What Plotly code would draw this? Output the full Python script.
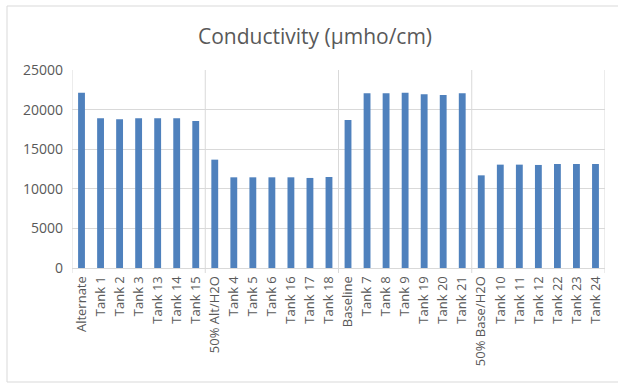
import plotly.graph_objects as go

categories = ["Alternate", "Tank 1", "Tank 2", "Tank 3", "Tank 13", "Tank 14", "Tank 15",
              "50% Alt/H2O", "Tank 4", "Tank 5", "Tank 6", "Tank 16", "Tank 17", "Tank 18",
              "Baseline", "Tank 7", "Tank 8", "Tank 9", "Tank 19", "Tank 20", "Tank 21",
              "50% Base/H2O", "Tank 10", "Tank 11", "Tank 12", "Tank 22", "Tank 23", "Tank 24"]
conductivity = [22140, 18900, 18780, 18900, 18900, 18900, 18570,
                13680, 11450, 11450, 11450, 11450, 11370, 11490,
                18690, 22060, 22060, 22140, 21930, 21850, 22060,
                11700, 13050, 13050, 13010, 13130, 13130, 13130]
group_boundaries = [6.5, 13.5, 20.5, 27.5]
y_ticks = [0, 5000, 10000, 15000, 20000, 25000]
y_tick_labels = ["0", "5000", "10000", "15000", "20000", "25000"]

W, H = 618, 383
L, R, T, B = 72, 13, 70, 115
pw, ph = W - L - R, H - T - B

fig = go.Figure(go.Bar(x=categories, y=conductivity, marker=dict(color="#4F81BD", line=dict(width=0)),
                       width=0.36, hoverinfo="x+y"))

shapes = []
for xb in group_boundaries:
    shapes.append(dict(type="line", xref="x", yref="paper", x0=xb, x1=xb, y0=-5 / ph, y1=1,
                       line=dict(color="#D9D9D9", width=1), layer="below"))
shapes.append(dict(type="line", xref="x", yref="paper", x0=-0.5, x1=-0.5, y0=-5 / ph, y1=1,
                   line=dict(color="#D9D9D9", width=1), layer="below"))
# chart border
shapes.append(dict(type="rect", xref="paper", yref="paper",
                   x0=(7 - L) / pw, x1=(625 - L) / pw,
                   y0=-(382 - (T + ph)) / ph, y1=1 + (T - 6) / ph,
                   line=dict(color="#D9D9D9", width=1), layer="below"))

fig.update_layout(
    width=W, height=H,
    margin=dict(l=L, r=R, t=T, b=B),
    paper_bgcolor="white", plot_bgcolor="white",
    font=dict(family="Open Sans, Liberation Sans, sans-serif", color="#595959"),
    title=dict(text="Conductivity (µmho/cm)", x=315 / W, xanchor="center", y=1 - 37 / H, yanchor="middle",
               xref="container", font=dict(size=21, color="#595959")),
    showlegend=False,
    shapes=shapes,
    xaxis=dict(type="category", tickangle=-90, tickfont=dict(size=13, color="#595959"),
               showgrid=False, showline=True, linecolor="#D9D9D9", linewidth=1,
               ticks="", range=[-0.5, 27.5], ticklabelstandoff=2),
    yaxis=dict(range=[0, 25000], tickvals=y_ticks, ticktext=y_tick_labels, showgrid=True,
               gridcolor="#D9D9D9", tickfont=dict(size=14, color="#595959"), zeroline=False,
               ticks="", ticklabelstandoff=8, showline=False),
)
fig.write_html("out.html", config={"displayModeBar": False},
               post_script="document.body.style.margin='0';document.body.style.overflow='hidden';")
